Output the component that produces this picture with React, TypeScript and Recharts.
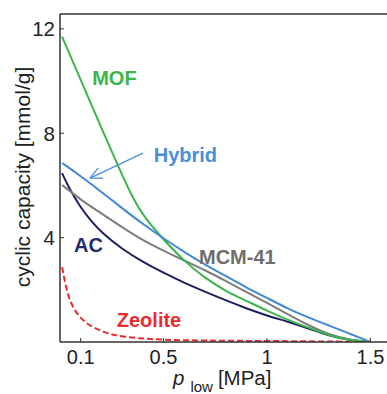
import React from "react";
import {
  LineChart,
  Line,
  XAxis,
  YAxis,
  ReferenceDot,
  ReferenceLine,
  Label,
} from "recharts";

// pressure grid [MPa] shared by Hybrid and MCM-41
const pLow = [0.01, 0.1, 0.2, 0.3, 0.4, 0.5, 0.6, 0.7, 0.8, 0.9, 1.0, 1.1, 1.2, 1.3, 1.4, 1.5];
const hybridCap = [6.86, 6.36, 5.75, 5.13, 4.52, 3.97, 3.45, 2.97, 2.53, 2.09, 1.69, 1.28, 0.94, 0.63, 0.32, 0];
const mcmCap = [6.02, 5.45, 4.93, 4.4, 3.9, 3.5, 3.12, 2.76, 2.34, 1.92, 1.5, 1.07, 0.64, 0.28, 0.08, 0];

const mofP = [0.01, 0.1, 0.2, 0.3, 0.35, 0.4, 0.5, 0.6, 0.7, 0.8, 0.9, 1.0, 1.1, 1.2, 1.3, 1.4, 1.5];
const mofCap = [11.7, 10.05, 8.2, 6.4, 5.55, 4.85, 3.92, 3.1, 2.45, 1.95, 1.58, 1.2, 0.85, 0.55, 0.25, 0.07, 0];

const acP = [0.01, 0.05, 0.1, 0.15, 0.2, 0.3, 0.4, 0.5, 0.6, 0.7, 0.8, 0.9, 1.0, 1.1, 1.2, 1.3, 1.4, 1.5];
const acCap = [6.47, 5.8, 5.15, 4.64, 4.2, 3.56, 3.07, 2.65, 2.27, 1.93, 1.6, 1.29, 1.01, 0.78, 0.52, 0.24, 0.07, 0];

const zeoP = [0.01, 0.025, 0.04, 0.07, 0.13, 0.22, 0.3, 0.45, 0.7, 1.0, 1.3, 1.5];
const zeoCap = [2.87, 2.26, 1.75, 1.17, 0.66, 0.34, 0.2, 0.09, 0.05, 0.04, 0.02, 0];

const xTicks = [0.1, 0.5, 1, 1.5];
const yTicks = [4, 8, 12];

const toRows = (xs: number[], ys: number[]) => xs.map((x, i) => ({ x, y: ys[i] }));

const series = [
  { name: "Zeolite", rows: toRows(zeoP, zeoCap), color: "#ee2b2b", dash: "6 3" },
  { name: "AC", rows: toRows(acP, acCap), color: "#1c2163", dash: undefined },
  { name: "MCM-41", rows: toRows(pLow, mcmCap), color: "#7d7d7d", dash: undefined },
  { name: "MOF", rows: toRows(mofP, mofCap), color: "#3cb54a", dash: undefined },
  { name: "Hybrid", rows: toRows(pLow, hybridCap), color: "#4189d6", dash: undefined },
];

const curveLabels = [
  { text: "MOF", x: 0.263, y: 10.13, color: "#3cb54a" },
  { text: "Hybrid", x: 0.606, y: 7.16, color: "#4a8fd8" },
  { text: "AC", x: 0.138, y: 3.74, color: "#1f2d6e" },
  { text: "MCM-41", x: 0.857, y: 3.28, color: "#6e6e6e" },
  { text: "Zeolite", x: 0.43, y: 0.86, color: "#ee2b2b" },
];

// arrow from the Hybrid label to its curve
const arrowTail = { x: 0.401, y: 7.24 };
const arrowTip = { x: 0.145, y: 6.28 };
const arrowWings = [
  { x: 0.185, y: 6.67 },
  { x: 0.208, y: 6.28 },
];

const font = "'Liberation Sans', Arial, sans-serif";
const axisColor = "#333";

export default function App() {
  return (
    <div
      style={{
        position: "absolute",
        left: 0,
        top: 0,
        width: 387,
        height: 394,
        overflow: "hidden",
        background: "#fff",
        fontFamily: font,
      }}
    >
      <LineChart width={387} height={394} margin={{ top: 0, right: 0, bottom: 0, left: 0 }}>
        <XAxis
          dataKey="x"
          type="number"
          domain={[0, 1.58]}
          ticks={xTicks}
          height={52}
          axisLine={{ stroke: axisColor, strokeWidth: 1.5 }}
          tickLine={{ stroke: axisColor }}
          tickSize={-4}
          tickMargin={12}
          tick={{ fontSize: 20, fill: "#222", fontFamily: font }}
          allowDataOverflow
        >
          <Label
            content={() => (
              <text x={173} y={385} fill="#222" fontFamily={font} fontSize={20.5}>
                <tspan fontStyle="italic">p</tspan>
                <tspan dx={6} dy={7} fontSize={15}>low</tspan>
                <tspan dx={5} dy={-7}>[MPa]</tspan>
              </text>
            )}
          />
        </XAxis>
        <XAxis
          xAxisId="top"
          orientation="top"
          dataKey="x"
          type="number"
          domain={[0, 1.58]}
          ticks={xTicks}
          height={14}
          axisLine={{ stroke: axisColor, strokeWidth: 1.5 }}
          tickLine={{ stroke: axisColor }}
          tickSize={-4}
          tick={false}
          allowDataOverflow
        />
        <YAxis
          type="number"
          domain={[0, 12.57]}
          ticks={yTicks}
          width={60}
          axisLine={{ stroke: axisColor, strokeWidth: 1.5 }}
          tickLine={{ stroke: axisColor }}
          tickSize={-4}
          tickMargin={9}
          tick={{ fontSize: 20.5, fill: "#222", fontFamily: font }}
          allowDataOverflow
        >
          <Label
            content={() => (
              <text
                x={22}
                y={177}
                transform="rotate(-90 22 177)"
                textAnchor="middle"
                dominantBaseline="central"
                fill="#222"
                fontFamily={font}
                fontSize={21}
              >
                cyclic capacity [mmol/g]
              </text>
            )}
          />
        </YAxis>

        {series.map((s) => (
          <Line
            key={s.name}
            data={s.rows}
            dataKey="y"
            type="basis"
            stroke={s.color}
            strokeWidth={2}
            strokeDasharray={s.dash}
            dot={false}
            activeDot={false}
            isAnimationActive={false}
          />
        ))}

        <ReferenceLine
          segment={[arrowTail, arrowTip]}
          stroke="#4a8fd8"
          strokeWidth={1.3}
        />
        {arrowWings.map((w, i) => (
          <ReferenceLine key={i} segment={[arrowTip, w]} stroke="#4a8fd8" strokeWidth={1.3} />
        ))}

        {curveLabels.map((l) => (
          <ReferenceDot
            key={l.text}
            x={l.x}
            y={l.y}
            r={0}
            fill="none"
            stroke="none"
            label={{
              value: l.text,
              position: "center",
              fill: l.color,
              fontSize: 20,
              fontWeight: "bold",
              fontFamily: font,
            }}
          />
        ))}
      </LineChart>
    </div>
  );
}
